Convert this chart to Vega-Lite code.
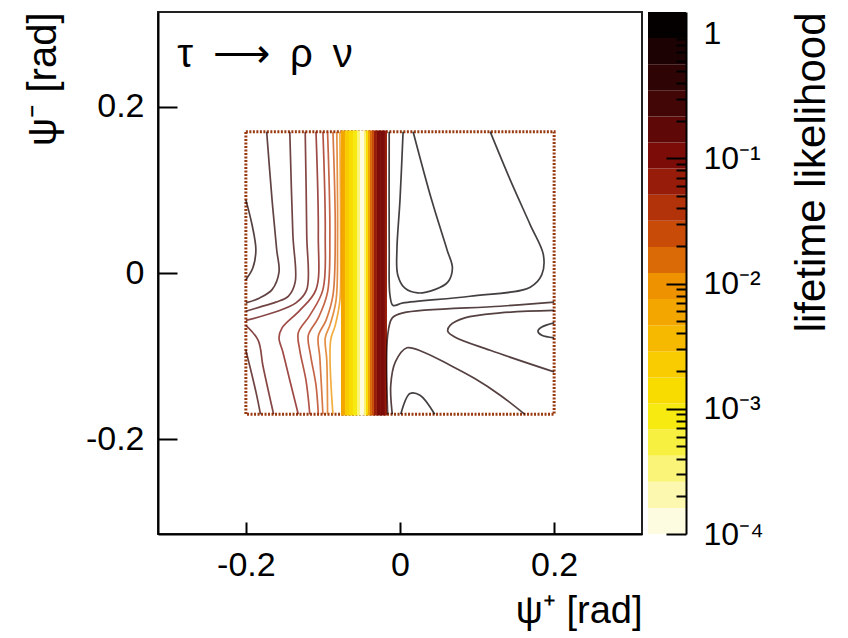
{
  "$schema": "https://vega.github.io/schema/vega-lite/v6.json",
  "padding": {"left": 22, "top": 10, "right": 5, "bottom": 0},
  "background": "white",
  "config": {
    "font": "Liberation Sans",
    "view": {"stroke": "#222", "strokeWidth": 2},
    "axis": {"grid": false, "zindex": 2, "domainColor": "#000", "domainWidth": 2, "tickColor": "#000", "tickWidth": 2, "labelColor": "#000", "titleColor": "#000", "labelFont": "Liberation Sans", "titleFont": "Liberation Sans", "labelFontSize": 34, "titleFontSize": 40, "titleFontWeight": "normal"},
    "legend": {"disable": true}
  },
  "datasets": {
    "box": [{"x": -0.2, "xe": 0.2, "y": -0.17, "ye": 0.17}],
    "label": [{"x": -0.289, "y": 0.248, "t": "τ\u2002⟶\u2002ρ\u2002ν"}],
    "strips": [
      {"x": -0.0766, "xe": -0.0714, "y": -0.1715, "ye": 0.1715, "k": 8},
      {"x": -0.0714, "xe": -0.0662, "y": -0.1715, "ye": 0.1715, "k": 6},
      {"x": -0.0662, "xe": -0.0610, "y": -0.1715, "ye": 0.1715, "k": 5},
      {"x": -0.0610, "xe": -0.0558, "y": -0.1715, "ye": 0.1715, "k": 4},
      {"x": -0.0558, "xe": -0.0519, "y": -0.1715, "ye": 0.1715, "k": 2},
      {"x": -0.0519, "xe": -0.0468, "y": -0.1715, "ye": 0.1715, "k": 0},
      {"x": -0.0468, "xe": -0.0442, "y": -0.1715, "ye": 0.1715, "k": 2},
      {"x": -0.0442, "xe": -0.0416, "y": -0.1715, "ye": 0.1715, "k": 5},
      {"x": -0.0416, "xe": -0.0390, "y": -0.1715, "ye": 0.1715, "k": 8},
      {"x": -0.0390, "xe": -0.0364, "y": -0.1715, "ye": 0.1715, "k": 10},
      {"x": -0.0364, "xe": -0.0338, "y": -0.1715, "ye": 0.1715, "k": 11},
      {"x": -0.0338, "xe": -0.0299, "y": -0.1715, "ye": 0.1715, "k": 13},
      {"x": -0.0299, "xe": -0.0247, "y": -0.1715, "ye": 0.1715, "k": 14},
      {"x": -0.0247, "xe": -0.0195, "y": -0.1715, "ye": 0.1715, "k": 14},
      {"x": -0.0195, "xe": -0.0169, "y": -0.1715, "ye": 0.1715, "k": 13}
    ],
    "lines": [
      {"id": "C0", "k": 18, "o": 0, "x": -0.2, "y": 0.088},
      {"id": "C0", "k": 18, "o": 1, "x": -0.192, "y": 0.058},
      {"id": "C0", "k": 18, "o": 2, "x": -0.187, "y": 0.028},
      {"id": "C0", "k": 18, "o": 3, "x": -0.191, "y": 0.006},
      {"id": "C0", "k": 18, "o": 4, "x": -0.2, "y": -0.008},
      {"id": "L1", "k": 17, "o": 0, "x": -0.173, "y": 0.17},
      {"id": "L1", "k": 17, "o": 1, "x": -0.166, "y": 0.088},
      {"id": "L1", "k": 17, "o": 2, "x": -0.160, "y": 0.028},
      {"id": "L1", "k": 17, "o": 3, "x": -0.157, "y": 0.001},
      {"id": "L1", "k": 17, "o": 4, "x": -0.166, "y": -0.020},
      {"id": "L1", "k": 17, "o": 5, "x": -0.182, "y": -0.030},
      {"id": "L1", "k": 17, "o": 6, "x": -0.2, "y": -0.036},
      {"id": "L2", "k": 16, "o": 0, "x": -0.143, "y": 0.17},
      {"id": "L2", "k": 16, "o": 1, "x": -0.139, "y": 0.046},
      {"id": "L2", "k": 16, "o": 2, "x": -0.136, "y": -0.011},
      {"id": "L2", "k": 16, "o": 3, "x": -0.145, "y": -0.028},
      {"id": "L2", "k": 16, "o": 4, "x": -0.161, "y": -0.035},
      {"id": "L2", "k": 16, "o": 5, "x": -0.182, "y": -0.041},
      {"id": "L2", "k": 16, "o": 6, "x": -0.2, "y": -0.046},
      {"id": "L3", "k": 15, "o": 0, "x": -0.123, "y": 0.17},
      {"id": "L3", "k": 15, "o": 1, "x": -0.121, "y": 0.046},
      {"id": "L3", "k": 15, "o": 2, "x": -0.121, "y": -0.020},
      {"id": "L3", "k": 15, "o": 3, "x": -0.135, "y": -0.036},
      {"id": "L3", "k": 15, "o": 4, "x": -0.162, "y": -0.047},
      {"id": "L3", "k": 15, "o": 5, "x": -0.2, "y": -0.057},
      {"id": "M1", "k": 15, "o": 0, "x": -0.2, "y": -0.063},
      {"id": "M1", "k": 15, "o": 1, "x": -0.184, "y": -0.081},
      {"id": "M1", "k": 15, "o": 2, "x": -0.178, "y": -0.111},
      {"id": "M1", "k": 15, "o": 3, "x": -0.171, "y": -0.141},
      {"id": "M1", "k": 15, "o": 4, "x": -0.164, "y": -0.17},
      {"id": "M2", "k": 16, "o": 0, "x": -0.2, "y": -0.093},
      {"id": "M2", "k": 16, "o": 1, "x": -0.192, "y": -0.123},
      {"id": "M2", "k": 16, "o": 2, "x": -0.186, "y": -0.147},
      {"id": "M2", "k": 16, "o": 3, "x": -0.181, "y": -0.17},
      {"id": "L4", "k": 14, "o": 0, "x": -0.109, "y": 0.17},
      {"id": "L4", "k": 14, "o": 1, "x": -0.106, "y": 0.046},
      {"id": "L4", "k": 14, "o": 2, "x": -0.109, "y": -0.020},
      {"id": "L4", "k": 14, "o": 3, "x": -0.130, "y": -0.045},
      {"id": "L4", "k": 14, "o": 4, "x": -0.153, "y": -0.066},
      {"id": "L4", "k": 14, "o": 5, "x": -0.157, "y": -0.078},
      {"id": "L4", "k": 14, "o": 6, "x": -0.152, "y": -0.095},
      {"id": "L4", "k": 14, "o": 7, "x": -0.143, "y": -0.129},
      {"id": "L4", "k": 14, "o": 8, "x": -0.132, "y": -0.17},
      {"id": "L5", "k": 13, "o": 0, "x": -0.100, "y": 0.17},
      {"id": "L5", "k": 13, "o": 1, "x": -0.097, "y": 0.046},
      {"id": "L5", "k": 13, "o": 2, "x": -0.100, "y": -0.020},
      {"id": "L5", "k": 13, "o": 3, "x": -0.117, "y": -0.051},
      {"id": "L5", "k": 13, "o": 4, "x": -0.132, "y": -0.072},
      {"id": "L5", "k": 13, "o": 5, "x": -0.130, "y": -0.093},
      {"id": "L5", "k": 13, "o": 6, "x": -0.122, "y": -0.129},
      {"id": "L5", "k": 13, "o": 7, "x": -0.117, "y": -0.17},
      {"id": "L6", "k": 12, "o": 0, "x": -0.094, "y": 0.17},
      {"id": "L6", "k": 12, "o": 1, "x": -0.091, "y": 0.046},
      {"id": "L6", "k": 12, "o": 2, "x": -0.094, "y": -0.023},
      {"id": "L6", "k": 12, "o": 3, "x": -0.106, "y": -0.054},
      {"id": "L6", "k": 12, "o": 4, "x": -0.119, "y": -0.075},
      {"id": "L6", "k": 12, "o": 5, "x": -0.116, "y": -0.099},
      {"id": "L6", "k": 12, "o": 6, "x": -0.109, "y": -0.135},
      {"id": "L6", "k": 12, "o": 7, "x": -0.106, "y": -0.17},
      {"id": "L7", "k": 11, "o": 0, "x": -0.087, "y": 0.17},
      {"id": "L7", "k": 11, "o": 1, "x": -0.084, "y": 0.046},
      {"id": "L7", "k": 11, "o": 2, "x": -0.087, "y": -0.027},
      {"id": "L7", "k": 11, "o": 3, "x": -0.096, "y": -0.057},
      {"id": "L7", "k": 11, "o": 4, "x": -0.106, "y": -0.076},
      {"id": "L7", "k": 11, "o": 5, "x": -0.104, "y": -0.102},
      {"id": "L7", "k": 11, "o": 6, "x": -0.100, "y": -0.17},
      {"id": "L8", "k": 10, "o": 0, "x": -0.082, "y": 0.17},
      {"id": "L8", "k": 10, "o": 1, "x": -0.081, "y": 0.040},
      {"id": "L8", "k": 10, "o": 2, "x": -0.083, "y": -0.033},
      {"id": "L8", "k": 10, "o": 3, "x": -0.091, "y": -0.063},
      {"id": "L8", "k": 10, "o": 4, "x": -0.097, "y": -0.078},
      {"id": "L8", "k": 10, "o": 5, "x": -0.095, "y": -0.105},
      {"id": "L8", "k": 10, "o": 6, "x": -0.094, "y": -0.17},
      {"id": "L9", "k": 9, "o": 0, "x": -0.078, "y": 0.17},
      {"id": "L9", "k": 9, "o": 1, "x": -0.077, "y": 0.028},
      {"id": "L9", "k": 9, "o": 2, "x": -0.078, "y": -0.033},
      {"id": "L9", "k": 9, "o": 3, "x": -0.084, "y": -0.063},
      {"id": "L9", "k": 9, "o": 4, "x": -0.090, "y": -0.081},
      {"id": "L9", "k": 9, "o": 5, "x": -0.087, "y": -0.17},
      {"id": "R1", "k": 19, "o": 0, "x": 0.004, "y": 0.17},
      {"id": "R1", "k": 19, "o": 1, "x": 0.0, "y": 0.088},
      {"id": "R1", "k": 19, "o": 2, "x": -0.004, "y": 0.028},
      {"id": "R1", "k": 19, "o": 3, "x": -0.003, "y": -0.002},
      {"id": "R1", "k": 19, "o": 4, "x": 0.006, "y": -0.018},
      {"id": "R1", "k": 19, "o": 5, "x": 0.023, "y": -0.024},
      {"id": "R1", "k": 19, "o": 6, "x": 0.045, "y": -0.020},
      {"id": "R1", "k": 19, "o": 7, "x": 0.062, "y": -0.011},
      {"id": "R1", "k": 19, "o": 8, "x": 0.068, "y": 0.006},
      {"id": "R1", "k": 19, "o": 9, "x": 0.061, "y": 0.028},
      {"id": "R1", "k": 19, "o": 10, "x": 0.041, "y": 0.088},
      {"id": "R1", "k": 19, "o": 11, "x": 0.017, "y": 0.17},
      {"id": "RB", "k": 19, "o": 0, "x": 0.117, "y": 0.17},
      {"id": "RB", "k": 19, "o": 1, "x": 0.143, "y": 0.112},
      {"id": "RB", "k": 19, "o": 2, "x": 0.169, "y": 0.058},
      {"id": "RB", "k": 19, "o": 3, "x": 0.186, "y": 0.022},
      {"id": "RB", "k": 19, "o": 4, "x": 0.184, "y": -0.002},
      {"id": "RB", "k": 19, "o": 5, "x": 0.169, "y": -0.017},
      {"id": "RB", "k": 19, "o": 6, "x": 0.091, "y": -0.028},
      {"id": "RB", "k": 19, "o": 7, "x": 0.004, "y": -0.036},
      {"id": "RB", "k": 19, "o": 8, "x": -0.009, "y": -0.039},
      {"id": "RB", "k": 19, "o": 9, "x": -0.013, "y": -0.027},
      {"id": "RB", "k": 19, "o": 10, "x": -0.014, "y": 0.028},
      {"id": "RB", "k": 19, "o": 11, "x": -0.014, "y": 0.17},
      {"id": "R3", "k": 18, "o": 0, "x": 0.2, "y": -0.035},
      {"id": "R3", "k": 18, "o": 1, "x": 0.13, "y": -0.040},
      {"id": "R3", "k": 18, "o": 2, "x": 0.004, "y": -0.048},
      {"id": "R3", "k": 18, "o": 3, "x": -0.010, "y": -0.054},
      {"id": "R3", "k": 18, "o": 4, "x": -0.016, "y": -0.075},
      {"id": "R3", "k": 18, "o": 5, "x": -0.016, "y": -0.17},
      {"id": "R4", "k": 18, "o": 0, "x": 0.2, "y": -0.045},
      {"id": "R4", "k": 18, "o": 1, "x": 0.13, "y": -0.048},
      {"id": "R4", "k": 18, "o": 2, "x": 0.084, "y": -0.054},
      {"id": "R4", "k": 18, "o": 3, "x": 0.065, "y": -0.063},
      {"id": "R4", "k": 18, "o": 4, "x": 0.062, "y": -0.070},
      {"id": "R4", "k": 18, "o": 5, "x": 0.071, "y": -0.077},
      {"id": "R4", "k": 18, "o": 6, "x": 0.117, "y": -0.093},
      {"id": "R4", "k": 18, "o": 7, "x": 0.2, "y": -0.119},
      {"id": "R5", "k": 19, "o": 0, "x": 0.2, "y": -0.060},
      {"id": "R5", "k": 19, "o": 1, "x": 0.184, "y": -0.065},
      {"id": "R5", "k": 19, "o": 2, "x": 0.179, "y": -0.070},
      {"id": "R5", "k": 19, "o": 3, "x": 0.184, "y": -0.075},
      {"id": "R5", "k": 19, "o": 4, "x": 0.2, "y": -0.078},
      {"id": "R6", "k": 18, "o": 0, "x": -0.010, "y": -0.17},
      {"id": "R6", "k": 18, "o": 1, "x": -0.012, "y": -0.135},
      {"id": "R6", "k": 18, "o": 2, "x": -0.006, "y": -0.107},
      {"id": "R6", "k": 18, "o": 3, "x": 0.009, "y": -0.090},
      {"id": "R6", "k": 18, "o": 4, "x": 0.030, "y": -0.095},
      {"id": "R6", "k": 18, "o": 5, "x": 0.065, "y": -0.111},
      {"id": "R6", "k": 18, "o": 6, "x": 0.097, "y": -0.127},
      {"id": "R6", "k": 18, "o": 7, "x": 0.130, "y": -0.147},
      {"id": "R6", "k": 18, "o": 8, "x": 0.162, "y": -0.17},
      {"id": "R7", "k": 19, "o": 0, "x": 0.001, "y": -0.17},
      {"id": "R7", "k": 19, "o": 1, "x": 0.013, "y": -0.145},
      {"id": "R7", "k": 19, "o": 2, "x": 0.026, "y": -0.147},
      {"id": "R7", "k": 19, "o": 3, "x": 0.045, "y": -0.17}
    ],
    "bar": [
      {"k": 0, "lo": 0.0001, "hi": 0.0001616, "a": 0, "b": 1},
      {"k": 1, "lo": 0.0001616, "hi": 0.0002611, "a": 0, "b": 1},
      {"k": 2, "lo": 0.0002611, "hi": 0.0004219, "a": 0, "b": 1},
      {"k": 3, "lo": 0.0004219, "hi": 0.0006818, "a": 0, "b": 1},
      {"k": 4, "lo": 0.0006818, "hi": 0.0011017, "a": 0, "b": 1},
      {"k": 5, "lo": 0.0011017, "hi": 0.00178, "a": 0, "b": 1},
      {"k": 6, "lo": 0.00178, "hi": 0.002877, "a": 0, "b": 1},
      {"k": 7, "lo": 0.002877, "hi": 0.004649, "a": 0, "b": 1},
      {"k": 8, "lo": 0.004649, "hi": 0.007512, "a": 0, "b": 1},
      {"k": 9, "lo": 0.007512, "hi": 0.01214, "a": 0, "b": 1},
      {"k": 10, "lo": 0.01214, "hi": 0.01962, "a": 0, "b": 1},
      {"k": 11, "lo": 0.01962, "hi": 0.0317, "a": 0, "b": 1},
      {"k": 12, "lo": 0.0317, "hi": 0.05122, "a": 0, "b": 1},
      {"k": 13, "lo": 0.05122, "hi": 0.08277, "a": 0, "b": 1},
      {"k": 14, "lo": 0.08277, "hi": 0.1337, "a": 0, "b": 1},
      {"k": 15, "lo": 0.1337, "hi": 0.2161, "a": 0, "b": 1},
      {"k": 16, "lo": 0.2161, "hi": 0.3492, "a": 0, "b": 1},
      {"k": 17, "lo": 0.3492, "hi": 0.5643, "a": 0, "b": 1},
      {"k": 18, "lo": 0.5643, "hi": 0.9118, "a": 0, "b": 1},
      {"k": 19, "lo": 0.9118, "hi": 1.4734, "a": 0, "b": 1}
    ]
  },
  "spacing": 5,
  "hconcat": [
    {
      "width": 484,
      "height": 522,
      "encoding": {
        "x": {"field": "x", "type": "quantitative", "scale": {"domain": [-0.314, 0.314], "nice": false, "zero": false},
          "axis": {"title": "ψ⁺ [rad]", "titleFontSize": 38, "values": [-0.2, 0, 0.2], "labelExpr": "datum.value == 0 ? '0' : (datum.value < 0 ? '-' : '') + format(abs(datum.value), '.1f')", "tickSize": -12, "tickWidth": 2, "tickColor": "#000", "labelPadding": 26, "titleAnchor": "end", "titlePadding": 10, "labelFlush": false, "zindex": 3}},
        "y": {"field": "y", "type": "quantitative", "scale": {"domain": [-0.314, 0.314], "nice": false, "zero": false},
          "axis": {"title": "ψ⁻ [rad]", "values": [-0.2, 0, 0.2], "labelExpr": "datum.value == 0 ? '0' : (datum.value < 0 ? '-' : '') + format(abs(datum.value), '.1f')", "tickSize": -19, "tickWidth": 2, "tickColor": "#000", "labelPadding": 33, "titleAnchor": "end", "titlePadding": 22, "labelFlush": false, "zindex": 3}}
      },
      "layer": [
        {
          "data": {"name": "box"},
          "mark": {"type": "rect", "fill": null, "stroke": "#9a3a10", "strokeWidth": 3, "strokeDash": [2, 1.5]},
          "encoding": {"x2": {"field": "xe"}, "y2": {"field": "ye"}}
        },
        {
          "data": {"name": "strips"},
          "mark": {"type": "rect"},
          "encoding": {
            "x2": {"field": "xe"}, "y2": {"field": "ye"},
            "color": {"field": "k", "type": "quantitative", "legend": null,
              "scale": {"domain": [0,1,2,3,4,5,6,7,8,9,10,11,12,13,14,15,16,17,18,19],
                "range": ["#fefce0","#fcf8b0","#faf478","#f8f040","#f6ea10","#f8dc00","#f8cc00","#f7b800","#f4a600","#ee9200","#da6a06","#c84c08","#b2320a","#981c0a","#7c0c08","#5e0808","#420606","#2e0404","#1c0202","#050000"]}}
          }
        },
        {
          "data": {"name": "lines"},
          "mark": {"type": "line", "interpolate": "catmull-rom", "strokeWidth": 1.7, "strokeOpacity": 0.75},
          "encoding": {
            "color": {"field": "k", "type": "quantitative", "legend": null},
            "detail": {"field": "id"},
            "order": {"field": "o"}
          }
        },
        {
          "data": {"name": "label"},
          "mark": {"type": "text", "align": "left", "baseline": "alphabetic", "fontSize": 40, "font": "Liberation Sans", "color": "#000"},
          "encoding": {"text": {"field": "t"}}
        }
      ]
    },
    {
      "width": 38,
      "height": 522,
      "view": {"stroke": null},
      "data": {"name": "bar"},
      "encoding": {
        "x": {"field": "a", "type": "quantitative", "scale": {"domain": [0, 1], "nice": false, "zero": false}, "axis": null},
        "x2": {"field": "b"}
      },
      "layer": [
        {
          "mark": {"type": "rect"},
          "encoding": {
            "y": {"field": "lo", "type": "quantitative", "scale": {"type": "log", "domain": [0.0001, 1.4734], "nice": false},
              "axis": {"orient": "right", "zindex": 3, "values": [0.0001, 0.001, 0.01, 0.1, 1], "labelExpr": "datum.value == 1 ? '1' : datum.value == 0.1 ? '10⁻¹' : datum.value == 0.01 ? '10⁻²' : datum.value == 0.001 ? '10⁻³' : datum.value == 0.0001 ? '10⁻⁴' : ''", "tickSize": -20, "labelPadding": 37, "labelFontSize": 32, "title": "lifetime likelihood", "titleFontSize": 42, "titleAngle": 270, "titleAnchor": "end", "titleBaseline": "top", "titlePadding": 28, "labelFlush": false}},
            "y2": {"field": "hi"},
            "color": {"field": "k", "type": "quantitative", "legend": null}
          }
        },
        {
          "mark": {"type": "rect", "opacity": 0},
          "encoding": {
            "y": {"field": "lo", "type": "quantitative",
              "axis": {"orient": "right", "zindex": 3, "values": [0.0002,0.0003,0.0004,0.0005,0.0006,0.0007,0.0008,0.0009,0.002,0.003,0.004,0.005,0.006,0.007,0.008,0.009,0.02,0.03,0.04,0.05,0.06,0.07,0.08,0.09,0.2,0.3,0.4,0.5,0.6,0.7,0.8,0.9], "labels": false, "tickSize": -10, "domain": false, "title": null}},
            "y2": {"field": "hi"}
          }
        }
      ],
      "resolve": {"axis": {"y": "independent"}}
    }
  ]
}
